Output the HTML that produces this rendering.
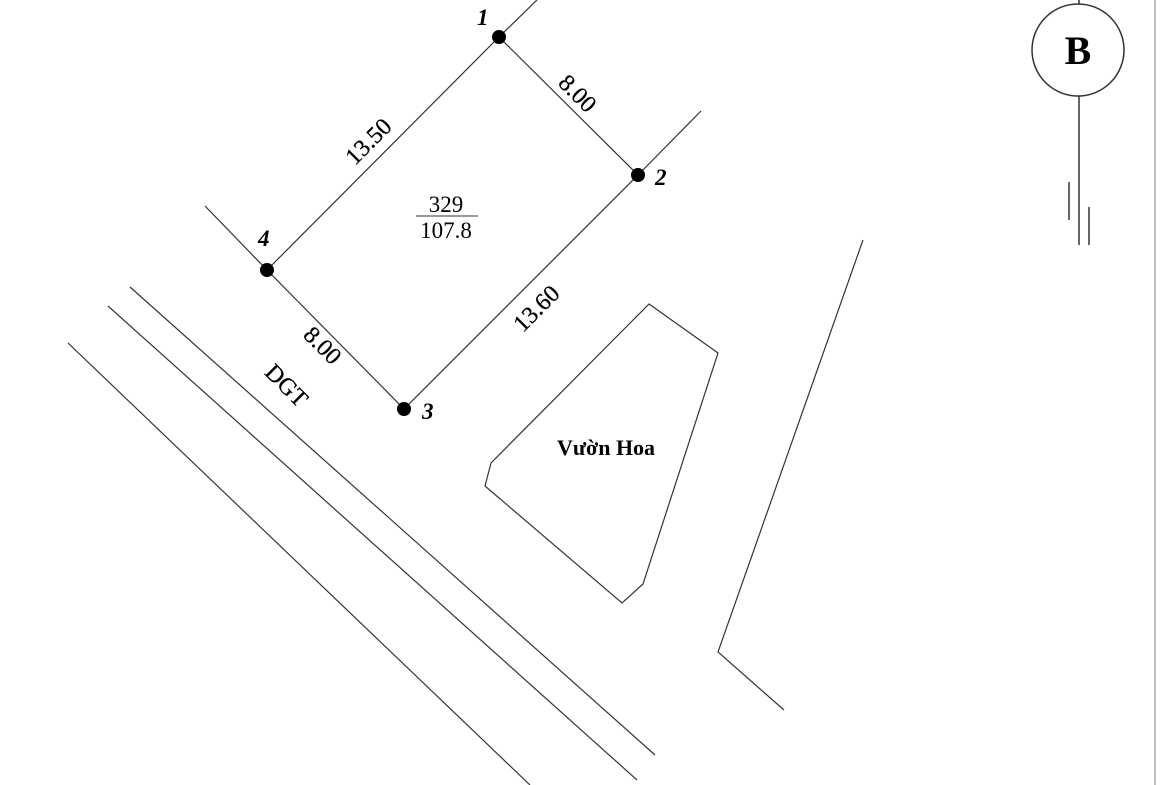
<!DOCTYPE html>
<html><head><meta charset="utf-8"><style>
html,body{margin:0;padding:0;background:#fff;}
svg{display:block;}
text{font-family:"Liberation Serif",serif;fill:#000;}
</style></head><body>
<svg width="1170" height="785" viewBox="0 0 1170 785" xmlns="http://www.w3.org/2000/svg">
<rect width="1170" height="785" fill="#fff"/>
<line x1="1155" y1="0" x2="1155" y2="785" stroke="#aaa" stroke-width="1.5"/>
<g stroke="#333" stroke-width="1.2" fill="none">
<line x1="499" y1="37" x2="537" y2="0"/>
<line x1="638" y1="175" x2="701" y2="111"/>
<line x1="267" y1="270" x2="205" y2="206"/>
<polygon points="499,37 638,175 404,409 267,270"/>
<line x1="130" y1="287" x2="655" y2="755"/>
<line x1="108" y1="306" x2="637" y2="780"/>
<line x1="68" y1="343" x2="530" y2="785"/>
<polygon points="649,304 718,353 643,584 622,603 485,486 491,463"/>
<polyline points="863,240 718,652 784,710"/>
<circle cx="1078" cy="50" r="46" stroke-width="1.5"/>
<line x1="1079" y1="0" x2="1079" y2="4" stroke-width="1.5"/>
<line x1="1079" y1="96" x2="1079" y2="245" stroke-width="1.5"/>
<line x1="1069" y1="182" x2="1069" y2="220" stroke-width="1.5"/>
<line x1="1089" y1="207" x2="1089" y2="245" stroke-width="1.5"/>
<line x1="416" y1="216" x2="478" y2="216" stroke-width="1"/>
</g>
<g fill="#000">
<circle cx="499" cy="37" r="7"/><circle cx="638" cy="175" r="7"/>
<circle cx="404" cy="409" r="7"/><circle cx="267" cy="270" r="7"/>
</g>
<g font-style="italic" font-weight="bold" font-size="23">
<text x="477" y="25">1</text><text x="655" y="185">2</text>
<text x="422" y="419">3</text><text x="258" y="246">4</text>
</g>
<text x="1078" y="64" font-size="40" font-weight="bold" text-anchor="middle">B</text>
<text x="446" y="212" font-size="23" text-anchor="middle">329</text>
<text x="446" y="238" font-size="23" text-anchor="middle">107.8</text>
<g font-size="24" text-anchor="middle" stroke="#000" stroke-width="0.3">
<text transform="translate(374,147) rotate(-45)">13.50</text>
<text transform="translate(572,99) rotate(45)">8.00</text>
<text transform="translate(542,314) rotate(-45)">13.60</text>
<text transform="translate(317,351) rotate(45)">8.00</text>
<text transform="translate(281,391) rotate(45)">DGT</text>
</g>
<text x="606" y="455" font-size="22" font-weight="bold" text-anchor="middle">Vườn Hoa</text>
</svg>
</body></html>
